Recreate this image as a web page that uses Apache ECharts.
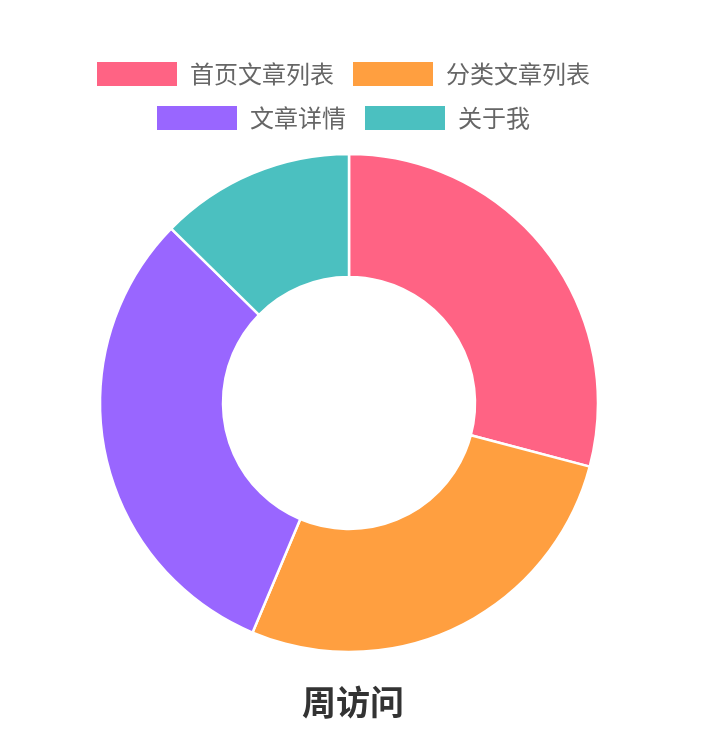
<!DOCTYPE html>
<html>
<head>
<meta charset="utf-8">
<script src="https://cdn.jsdelivr.net/npm/echarts@6/dist/echarts.min.js"></script>
<style>
html,body{margin:0;padding:0;background:#fff;}
#main{width:728px;height:742px;}
</style>
</head>
<body>
<div id="main"></div>
<script>
// 页面名称
var pageNames = ['首页文章列表', '分类文章列表', '文章详情', '关于我'];
// 周访问量
var visitValues = [46, 43, 49, 20];
var colors = ['#ff6384', '#ff9f40', '#9966ff', '#4bc0c0'];

var seriesData = [];
for (var i = 0; i < pageNames.length; i++) {
	seriesData.push({name: pageNames[i], value: visitValues[i]});
}

var legendBase = {
	orient: 'horizontal',
	icon: 'rect',
	itemWidth: 80,
	itemHeight: 24,
	itemGap: 19,
	itemStyle: {borderWidth: 0},
	textStyle: {
		fontFamily: 'Noto Sans CJK SC',
		fontSize: 24,
		color: '#666',
		padding: [0, 0, 0, 8]
	}
};

var myChart = echarts.init(document.getElementById('main'));
var option = {
	color: colors,
	animation: false,
	title: {
		text: '周访问',
		left: 297,
		top: 680,
		textStyle: {
			fontFamily: 'Noto Sans CJK SC',
			fontSize: 34,
			fontWeight: 'bold',
			color: '#333'
		}
	},
	legend: [
		Object.assign({}, legendBase, {left: 92, top: 57, data: pageNames.slice(0, 2)}),
		Object.assign({}, legendBase, {left: 152, top: 101, data: pageNames.slice(2)})
	],
	series: [{
		name: '周访问',
		type: 'pie',
		radius: [126, 249],
		center: [349, 403],
		startAngle: 90,
		clockwise: true,
		label: {show: false},
		labelLine: {show: false},
		itemStyle: {borderColor: '#fff', borderWidth: 2.5},
		emphasis: {scale: false},
		data: seriesData
	}]
};
myChart.setOption(option);
</script>
</body>
</html>
